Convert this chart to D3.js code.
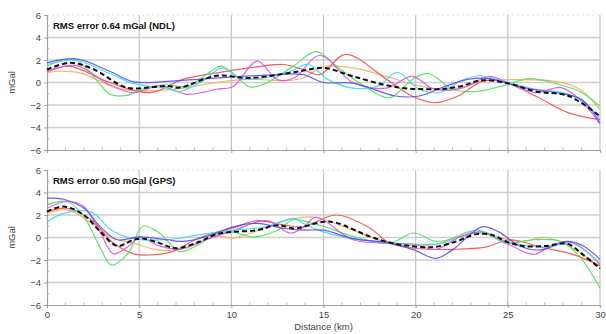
<!DOCTYPE html>
<html>
<head>
<meta charset="utf-8">
<script src="https://cdn.jsdelivr.net/npm/d3@7"></script>
<style>
  body { margin: 0; background: #fff; }
  svg { display: block; font-family: Arial, "Liberation Sans", sans-serif; }
</style>
</head>
<body>
<div id="chart"></div>
<script>
// tick values
const xTicks = [0, 5, 10, 15, 20, 25, 30];
const yTicks = [-6, -4, -2, 0, 2, 4, 6];

// panel titles
const panelTitles = ["RMS error 0.64 mGal (NDL)", "RMS error 0.50 mGal (GPS)"];

// top panel (NDL), [distance km, mGal]
const ndlBlue = [[0,1.75],[1.6,2.1],[3.4,1.0],[4.7,0.05],[6.5,0.1],[8.3,0.3],[10.1,0.5],[11.9,0.65],[13.9,0.7],[15,0],[16.6,-0.05],[18.9,-1.2],[20.2,-1.2],[21.5,-0.4],[22.9,0.3],[24,0.35],[25.8,-0.45],[27.6,-0.9],[29,-1.5],[30,-3.6]];
const ndlCyan = [[0,1.6],[1.5,2.0],[3.4,0.8],[4.7,-0.1],[6.5,-0.5],[7.2,-0.8],[8.6,0.3],[9.5,1.3],[10.6,0.3],[12.9,0.8],[14.2,1.6],[15.2,0.3],[16.6,-0.5],[18,-0.3],[19,0.9],[20.2,-0.6],[21.3,-0.9],[22.5,0.2],[23.5,0.6],[25,0],[26.5,-0.6],[28,-0.9],[29,-1.6],[30,-3.2]];
const ndlGreen = [[0,1.45],[0.9,2.0],[1.6,2.0],[2.9,-0.2],[3.4,-1.05],[4.3,-1.15],[5.4,-0.45],[6.5,-0.2],[7.6,-0.35],[8.9,1.0],[9.4,1.45],[10.1,0.8],[11,-0.4],[11.9,-0.05],[13.4,1.5],[14.6,2.75],[15.7,1.45],[17.1,-0.2],[18.6,-1.35],[19.8,0.25],[20.7,0.8],[22,-0.6],[23.3,-0.8],[24.7,-0.3],[26.2,0.35],[27.6,-0.1],[28.9,-0.8],[30,-2.1]];
const ndlMagenta = [[0,1.0],[1.6,1.5],[3.4,-0.2],[4.7,-0.9],[6.1,-0.3],[7.6,-1.05],[9.2,-0.6],[10.1,-0.35],[11.4,1.9],[12.5,0.25],[13.4,0.4],[14.8,2.4],[16.6,0],[18.4,-0.5],[19.8,0.55],[21,-0.6],[22.5,-0.5],[24,0.55],[25,0],[26.5,-0.9],[27.9,-0.45],[28.9,-1.5],[30,-3.7]];
const ndlRed = [[0,0.95],[1.2,1.45],[3.4,0],[5.6,-0.9],[7.4,0.3],[9.2,0.85],[11,1.3],[12.8,1.6],[13.9,1.15],[14.8,0.7],[16.2,2.5],[18.4,0.3],[19.8,-1.2],[21,-1.8],[22.3,-1.2],[23.6,0.1],[24.7,0.1],[26.5,-1.2],[28.3,-2.7],[30,-3.3]];
const ndlOrange = [[0,0.85],[0.5,1.0],[1.8,0.85],[3.8,-0.5],[5.6,-0.75],[7.4,-0.5],[9.2,0],[11,0.3],[12.8,0.15],[13.9,0.4],[15,1.4],[16.6,1.3],[18.4,0.55],[20.2,-0.3],[22,-0.65],[23.6,0.1],[25.3,0.25],[27.6,0.1],[28.9,-0.6],[30,-2.4]];
const ndlMean = [[0,1.15],[1.25,1.75],[2.5,1.2],[4.3,-0.45],[5.5,-0.45],[6.5,-0.3],[7.2,-0.45],[9.2,0.6],[11,0.4],[13.7,1.0],[15,1.3],[16.6,0.55],[18.9,-0.4],[21.1,-0.6],[22.4,-0.35],[23.6,0.2],[25.1,-0.1],[26.5,-0.8],[28.3,-1.2],[30,-3.0]];

// bottom panel (GPS)
const gpsBlue = [[0,3.5],[0.9,3.4],[2,2.6],[2.9,0.95],[3.8,-0.2],[5,0.05],[6.5,-0.2],[7.4,-0.35],[8.6,0.05],[10.1,0.95],[11.4,1.25],[12.9,0.8],[13.9,0.65],[15,0.65],[16.6,-0.1],[18.6,-0.5],[19.9,-1.1],[21.1,-1.85],[22,-1.1],[23.6,0.95],[24.5,0.5],[25.7,-0.8],[26.8,-1.1],[28.2,-0.35],[29.1,-0.75],[30,-1.95]];
const gpsCyan = [[0,1.4],[0.9,2.15],[2.4,2.25],[3.5,0.65],[4.7,-0.1],[6.5,-0.2],[8.3,0.25],[10.1,0.65],[11.9,0.95],[13.4,1.7],[13.9,1.25],[15,0.5],[16.6,-0.1],[18.6,-0.5],[20.2,-0.6],[21.5,-0.5],[23.3,0.65],[24.9,-0.35],[26.8,-0.85],[28.6,-0.6],[30,-2.3]];
const gpsGreen = [[0,2.9],[1.1,3.2],[2,1.85],[2.9,-0.95],[3.5,-2.45],[4.4,-1.4],[5.2,1.0],[6.1,0.4],[7.2,-1.25],[8.3,-0.55],[9.2,0.3],[10.1,0.45],[11.2,0.05],[12.5,0.65],[13.4,1.6],[14.3,1.3],[15,1.0],[16.6,0.1],[18.6,-0.5],[19.9,0.4],[21.1,-0.35],[22.4,0.05],[23.6,0.5],[24.9,-0.5],[26.4,-0.2],[27.9,-0.35],[28.9,-1.7],[30,-4.5]];
const gpsMagenta = [[0,2.6],[1.1,3.2],[2,2.75],[2.9,0.4],[3.6,-1.45],[4.4,-0.8],[5,0],[6.1,-0.75],[7.2,-1.05],[8.6,-0.2],[10.1,0.6],[11.9,1.5],[13.2,0.4],[13.9,0.9],[14.6,1.8],[16.6,-0.2],[18.6,-0.5],[19.9,-0.6],[21.1,-1.05],[22.4,0.05],[23.6,0.5],[25.1,-0.65],[26.4,-1.5],[27.5,-0.6],[28.6,-0.5],[30,-2.4]];
const gpsRed = [[0,2.3],[1.1,2.6],[2.5,1.45],[3.5,-0.35],[4.7,-1.45],[5.6,-1.55],[6.8,-1.25],[8.3,0],[10.1,0.85],[11.4,1.5],[12.9,1.1],[13.9,0.95],[15.7,2.0],[17.5,0.85],[18.6,-0.5],[20.2,-1.0],[22,-1.05],[23.8,-0.85],[25.1,-0.2],[26.8,-0.85],[28.6,-1.55],[30,-2.5]];
const gpsOrange = [[0,2.15],[1.1,2.45],[2.4,1.3],[3.5,0],[4.7,-0.5],[6,-1.1],[7.4,-1.0],[9.2,0.1],[10.1,-0.05],[11.5,0.65],[12.9,1.5],[13.9,1.8],[14.6,1.8],[16.6,0.65],[18.6,-0.5],[21.1,-0.6],[22.9,0.5],[24,0.2],[25.7,-0.35],[27.1,0],[28.6,-1.05],[30,-2.6]];
const gpsMean = [[0,2.3],[0.9,2.75],[2,2.0],[2.9,0.5],[3.8,-0.75],[4.7,-0.2],[5.2,-0.1],[6.1,-0.5],[7,-0.95],[8.3,-0.35],[9.2,0.3],[10.1,0.5],[11.4,0.65],[12.5,1.1],[13.4,0.8],[13.9,0.95],[15,1.4],[15.7,1.3],[17.5,0.1],[18.6,-0.45],[19.7,-0.75],[21,-0.85],[22.2,-0.35],[23.3,0.3],[24.2,0.2],[24.9,-0.35],[25.8,-0.75],[27.1,-0.75],[28.2,-0.55],[29.1,-1.55],[30,-2.75]];

const colors = {
  blue: "#5a4cf0", cyan: "#3fd8ee", green: "#4fe05a",
  magenta: "#e34ee6", red: "#f0504f", orange: "#f5ad5c"
};

const panels = [
  { title: panelTitles[0], top: 15, bottom: 150, showX: false,
    series: [["orange", ndlOrange], ["red", ndlRed], ["green", ndlGreen], ["magenta", ndlMagenta], ["cyan", ndlCyan], ["blue", ndlBlue]], mean: ndlMean },
  { title: panelTitles[1], top: 170, bottom: 305, showX: true,
    series: [["orange", gpsOrange], ["red", gpsRed], ["green", gpsGreen], ["magenta", gpsMagenta], ["cyan", gpsCyan], ["blue", gpsBlue]], mean: gpsMean }
];

const width = 606, height = 334;
const left = 47, right = 600;

const svg = d3.select("#chart").append("svg")
  .attr("width", width)
  .attr("height", height);

const x = d3.scaleLinear().domain([0, 30]).range([left, right]);

panels.forEach(function(p) {
  const y = d3.scaleLinear().domain([-6, 6]).range([p.bottom, p.top]);
  const g = svg.append("g");

  // gridlines
  g.selectAll(".hgrid").data(yTicks.filter(d => d > -6)).enter().append("line")
    .attr("x1", left).attr("x2", right)
    .attr("y1", d => y(d)).attr("y2", d => y(d))
    .attr("stroke", d => d === 6 ? "#e2e2e2" : "#cfcfcf")
    .attr("stroke-width", d => d === 6 ? 1 : 1.5)
    .attr("stroke-dasharray", d => d === 6 ? "2,3" : null);
  g.selectAll(".vgrid").data(xTicks.filter(d => d > 0)).enter().append("line")
    .attr("x1", d => x(d)).attr("x2", d => x(d))
    .attr("y1", p.top).attr("y2", p.bottom)
    .attr("stroke", "#c4c4c4")
    .attr("stroke-width", 1.2);

  // minor ticks
  g.selectAll(".mx").data(d3.range(1, 30)).enter().append("line")
    .attr("x1", d => x(d)).attr("x2", d => x(d))
    .attr("y1", p.bottom).attr("y2", p.bottom - 2.5)
    .attr("stroke", "#bbb");
  g.selectAll(".my").data(d3.range(-5, 6, 2)).enter().append("line")
    .attr("x1", left).attr("x2", left + 2.5)
    .attr("y1", d => y(d)).attr("y2", d => y(d))
    .attr("stroke", "#bbb");

  // axes
  const yAxis = d3.axisLeft(y).tickValues(yTicks).tickSize(3).tickFormat(d3.format("d"));
  const ya = g.append("g").attr("transform", "translate(" + left + ",0)").call(yAxis);
  const xAxis = d3.axisBottom(x).tickValues(xTicks).tickSize(3).tickFormat(p.showX ? d3.format("d") : "");
  const xa = g.append("g").attr("transform", "translate(0," + p.bottom + ")").call(xAxis);
  [ya, xa].forEach(function(a) {
    a.select(".domain").attr("stroke", "#a0a0a0").attr("stroke-width", 1.2);
    a.selectAll(".tick line").attr("stroke", "#a0a0a0");
    a.selectAll("text").attr("fill", "#444").style("font-size", "9.5px");
  });
  ya.selectAll("text").attr("x", -6);
  xa.selectAll("text").attr("y", 6);

  // series
  const line = d3.line()
    .x(d => x(d[0]))
    .y(d => y(d[1]))
    .curve(d3.curveCatmullRom.alpha(0.5));

  g.selectAll(".s").data(p.series).enter().append("path")
    .attr("d", d => line(d[1]))
    .attr("fill", "none")
    .attr("stroke", d => colors[d[0]])
    .attr("stroke-width", 1.2)
    .attr("stroke-opacity", 0.9);

  g.append("path")
    .attr("d", line(p.mean))
    .attr("fill", "none")
    .attr("stroke", "#111")
    .attr("stroke-width", 2)
    .attr("stroke-dasharray", "5,3");

  // title
  g.append("text")
    .attr("x", 53).attr("y", p.top + 14)
    .attr("font-size", "9.5px")
    .attr("font-weight", "bold")
    .attr("fill", "#111")
    .text(p.title);

  // y label
  g.append("text")
    .attr("transform", "translate(15," + ((p.top + p.bottom) / 2) + ") rotate(-90)")
    .attr("text-anchor", "middle")
    .attr("font-size", "9.5px")
    .attr("fill", "#444")
    .text("mGal");
});

svg.append("text")
  .attr("x", (left + right) / 2).attr("y", 330)
  .attr("text-anchor", "middle")
  .attr("font-size", "9.5px")
  .attr("fill", "#444")
  .text("Distance (km)");
</script>
</body>
</html>
